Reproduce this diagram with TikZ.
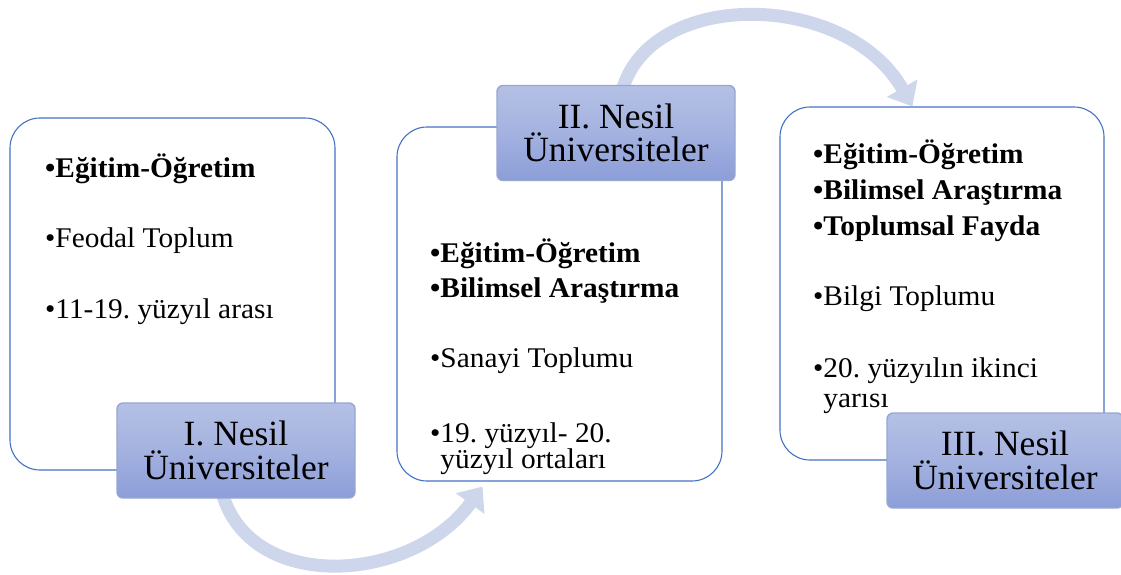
\documentclass[tikz,border=0pt]{standalone}
\usepackage{fontspec}
\setmainfont{Liberation Serif}[FakeStretch=1.03]
\newfontfamily\labelfont{Liberation Serif}
\usetikzlibrary{arrows.meta,calc}
\frenchspacing

\definecolor{boxline}{RGB}{68,114,196}
\definecolor{flow}{RGB}{206,214,236}
\definecolor{tagtop}{RGB}{180,192,228}
\definecolor{tagmid}{RGB}{164,178,224}
\definecolor{tagbot}{RGB}{140,157,216}
\definecolor{tagrim}{RGB}{152,166,210}

\tikzset{
  panel/.style={draw=boxline, line width=1.1pt, fill=white, rounded corners=30pt,
                inner sep=0pt},
  tag/.style={draw=tagrim, line width=1.4pt, rounded corners=6pt,
              top color=tagtop, bottom color=tagbot, middle color=tagmid,
              minimum width=238pt, minimum height=95pt, inner sep=0pt,
              align=center, font=\labelfont\frenchspacing\fontsize{35.5}{33.5}\selectfont},
  item/.style={anchor=base west, inner sep=0pt, font=\fontsize{28.5}{30}\selectfont},
  bolditem/.style={item, font=\fontsize{28.5}{30}\selectfont\bfseries},
  flowarrow/.style={draw=flow, line width=13pt,
                    -{Triangle[width=34pt,length=21pt,fill=flow]}},
}

\begin{document}
\begin{tikzpicture}[x=1pt, y=-1pt]
  \useasboundingbox (0,0) rectangle (1121,574);

  % content panels
  \node[panel, minimum width=325pt, minimum height=352pt] (b1) at (172.5,294) {};
  \node[panel, minimum width=325pt, minimum height=354pt] (b2) at (559.5,304) {};
  \node[panel, minimum width=324pt, minimum height=353pt] (b3) at (942,283.5) {};

  % centres of the generation labels
  \path (236,450.5) coordinate (l1c) (616,133) coordinate (l2c) (1005,460.5) coordinate (l3c);

  % flow arrows between the generations
  \draw[flowarrow] ($(l1c)+(-14,42)$) coordinate (a1s)
      .. controls (250,594) and (412,584) .. ($(b2.south west)+(86,5)$);
  \draw[flowarrow] ($(l2c)+(6,-42)$) coordinate (a2s)
      .. controls (650,-12) and (846,-10) .. ($(b3.north west)+(133,0)$);

  % generation labels
  \node[tag] (l1) at (l1c) {I. Nesil\\Üniversiteler};
  \node[tag] (l2) at (l2c) {II. Nesil\\Üniversiteler};
  \node[tag, minimum width=236pt] (l3) at (l3c) {III. Nesil\\Üniversiteler};

  % first generation
  \node[bolditem] (t11) at (45,177) {•Eğitim-Öğretim};
  \node[item] (t12) at (45,247) {•Feodal Toplum};
  \node[item] (t13) at (45,318) {•11-19. yüzyıl arası};

  % second generation
  \node[bolditem] (t21) at (430,262) {•Eğitim-Öğretim};
  \node[bolditem] (t22) at (430,297) {•Bilimsel Araştırma};
  \node[item] (t23) at (430,367) {•Sanayi Toplumu};
  \node[item] (t24) at (430,442) {•19. yüzyıl- 20.};
  \node[item] (t25) at (430,468) {\hphantom{•}yüzyıl ortaları};

  % third generation
  \node[bolditem] (t31) at (813,163) {•Eğitim-Öğretim};
  \node[bolditem] (t32) at (813,199) {•Bilimsel Araştırma};
  \node[bolditem] (t33) at (813,235) {•Toplumsal Fayda};
  \node[item] (t34) at (813,305) {•Bilgi Toplumu};
  \node[item] (t35) at (813,377) {•20. yüzyılın ikinci};
  \node[item] (t36) at (813,407) {\hphantom{•}yarısı};
\end{tikzpicture}
\end{document}
